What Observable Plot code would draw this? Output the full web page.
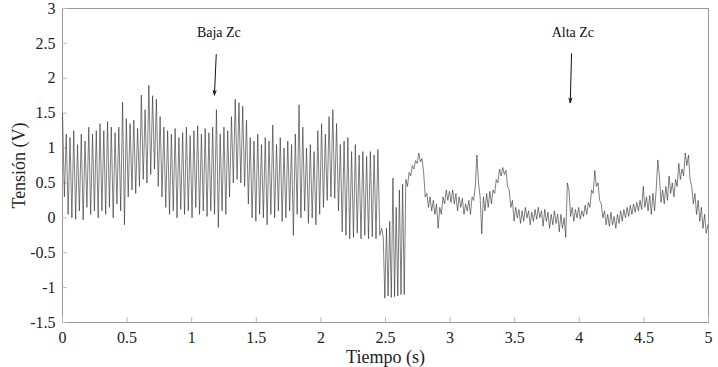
<!DOCTYPE html>
<html><head><meta charset="utf-8">
<script src="https://cdn.jsdelivr.net/npm/d3@7"></script>
<script src="https://cdn.jsdelivr.net/npm/@observablehq/plot@0.6"></script>
<style>
body{margin:0;background:#fff;}
#chart svg{display:block;}
#chart svg, #chart svg text{font-family:"Liberation Serif","Times New Roman",serif !important;}
#chart g[aria-label="x-axis tick label"] text, #chart g[aria-label="y-axis tick label"] text{font-size:16px !important;}
#chart g[aria-label="x-axis label"] text, #chart g[aria-label="y-axis label"] text{font-size:18px !important;}
</style>
</head><body><div id="chart"></div>
<script>
// Oscillating part (0 – 2.46 s): successive peak and trough values
const peaks = [1.50,1.20,1.15,1.25,1.05, 1.20,1.10,1.30,1.20,1.25, 1.35,1.25,1.38,1.30,1.22,
  1.30,1.66,1.42,1.35,1.40, 1.28,1.76,1.55,1.90,1.75, 1.70,1.45,1.30,1.25,1.20,
  1.28,1.15,1.22,1.30,1.18, 1.25,1.32,1.20,1.28,1.22, 1.30,1.55,1.20,1.30,1.25,
  1.45,1.70,1.65,1.60,1.40, 1.15,1.10,1.20,1.05,1.15, 1.10,1.33,1.05,1.15,1.00,
  1.10,1.05,1.20,1.62,1.30, 1.00,1.05,0.95,1.25,1.35, 1.20,1.45,1.55,1.35,1.05,
  1.10,1.15,0.95,1.05,0.90, 0.95,0.88,0.95,0.90,0.98];
const troughs = [0.30,0.05,0.00,-0.02,0.10, -0.03,0.15,0.05,0.10,0.00, 0.10,0.05,0.15,0.00,0.20,
  0.10,-0.10,0.30,0.40,0.35, 0.45,0.55,0.50,0.62,0.70, 0.45,0.30,0.15,0.05,0.10,
  0.00,0.12,0.05,0.10,0.00, 0.15,0.05,0.10,0.02,0.10, 0.05,-0.14,0.10,0.05,0.30,
  0.50,0.55,0.50,0.45,0.20, 0.00,-0.05,0.05,0.00,-0.10, 0.05,0.00,0.10,-0.05,0.00,
  0.10,-0.25,0.05,0.00,0.10, -0.08,0.00,-0.10,0.05,0.15, 0.25,0.30,0.28,0.10,-0.20,
  -0.25,-0.30,-0.28,-0.22,-0.30, -0.25,-0.30,-0.27,-0.30,-0.25];
const oscStart = 0, oscStep = 0.01453;

// Remaining part (2.47 – 5 s) sampled every 0.0125 s
const tail = [-0.15,-0.28,-1.15,-0.15,-1.12,-0.05,-1.14,0.57,-1.13,0.15,
  -1.12,0.40,-1.10,0.48,-1.10,0.55,0.45,0.65,0.60,0.75,
  0.70,0.82,0.78,0.93,0.80,0.85,0.65,0.30,0.35,0.15,
  0.30,0.10,0.25,0.05,0.20,-0.15,0.15,0.05,0.30,0.20,
  0.40,0.25,0.38,0.22,0.40,0.20,0.35,0.10,0.30,0.15,
  0.28,0.05,0.20,0.10,0.25,0.05,0.30,0.25,0.45,0.90,
  0.50,0.30,-0.23,0.30,0.10,0.35,0.15,0.38,0.20,0.40,
  0.35,0.55,0.50,0.70,0.60,0.72,0.62,0.68,0.45,0.40,
  0.15,0.25,-0.05,0.15,0.00,0.12,-0.08,0.10,-0.05,0.15,
  0.00,0.10,-0.10,0.08,-0.05,0.12,-0.02,0.15,0.00,0.10,
  -0.12,0.12,-0.05,0.08,-0.15,0.05,-0.10,0.10,-0.08,0.05,
  -0.20,0.05,-0.15,0.00,-0.28,0.50,0.40,0.02,0.15,-0.05,
  0.12,0.00,0.15,-0.02,0.10,0.02,0.18,0.05,0.22,0.15,
  0.40,0.35,0.68,0.45,0.50,0.25,0.20,0.00,0.10,-0.10,
  0.05,-0.12,0.08,-0.10,0.02,-0.15,0.05,-0.08,0.10,-0.05,
  0.12,0.00,0.15,0.02,0.18,0.05,0.20,0.08,0.22,0.10,
  0.25,0.12,0.45,0.15,0.30,0.10,0.32,0.05,0.35,0.10,
  0.40,0.83,0.60,0.22,0.40,0.20,0.45,0.25,0.60,0.35,
  0.50,0.30,0.55,0.45,0.78,0.55,0.70,0.60,0.93,0.75,
  0.90,0.55,0.45,0.20,0.35,0.05,0.25,-0.05,0.15,-0.15,
  0.05,-0.22,-0.10];
const tailStart = 2.47, tailStep = 0.0125;

const xTicks = [0,0.5,1,1.5,2,2.5,3,3.5,4,4.5,5];
const yTicks = [-1.5,-1,-0.5,0,0.5,1,1.5,2,2.5,3];
const annLabels = ["Baja Zc","Alta Zc"];
const annTextX = [1.21, 3.95];
const annTextY = [2.66, 2.66];
const arrowX1 = [1.19, 3.94];
const arrowY1 = [2.34, 2.35];
const arrowX2 = [1.176, 3.93];
const arrowY2 = [1.76, 1.65];

const signal = [];
peaks.forEach((p, i) => {
  signal.push({t: oscStart + (2*i)*oscStep, v: p});
  signal.push({t: oscStart + (2*i+1)*oscStep, v: troughs[i]});
});
tail.forEach((v, k) => signal.push({t: tailStart + k*tailStep, v}));

const ann = annLabels.map((label, i) => ({label, tx: annTextX[i], ty: annTextY[i],
  x1: arrowX1[i], y1: arrowY1[i], x2: arrowX2[i], y2: arrowY2[i]}));

const fmt = d => String(d);
const chart = Plot.plot({
  width: 718, height: 367,
  marginLeft: 62, marginRight: 10, marginTop: 8, marginBottom: 45,
  style: {fontFamily: "Liberation Serif, serif", fontSize: "16px", color: "#222", background: "#fff"},
  x: {domain: [0, 5]},
  y: {domain: [-1.5, 3]},
  marks: [
    Plot.frame({stroke: "#999", strokeWidth: 1}),
    Plot.axisX(xTicks, {tickSize: 0, tickPadding: 9, tickFormat: fmt, fontSize: 16, label: "Tiempo (s)", labelAnchor: "center", labelArrow: "none", labelOffset: 40}),
    Plot.axisX(xTicks, {tickSize: 5, dy: -5, text: null, stroke: "#bbb", label: null}),
    Plot.axisY(yTicks, {tickSize: 0, tickPadding: 7, tickFormat: fmt, fontSize: 16, label: "Tensión (V)", labelAnchor: "center", labelArrow: "none", labelOffset: 50}),
    Plot.axisY(yTicks, {tickSize: 5, dx: 5, text: null, stroke: "#bbb", label: null}),
    Plot.line(signal, {x: "t", y: "v", stroke: "#2a2a2a", strokeWidth: 0.6}),
    Plot.text(ann, {x: "tx", y: "ty", text: "label", fontSize: 14, fill: "#111"}),
    Plot.arrow(ann, {x1: "x1", y1: "y1", x2: "x2", y2: "y2", stroke: "#111", strokeWidth: 1, headLength: 7, headAngle: 35})
  ]
});
document.getElementById("chart").append(chart);
</script>
</body></html>
